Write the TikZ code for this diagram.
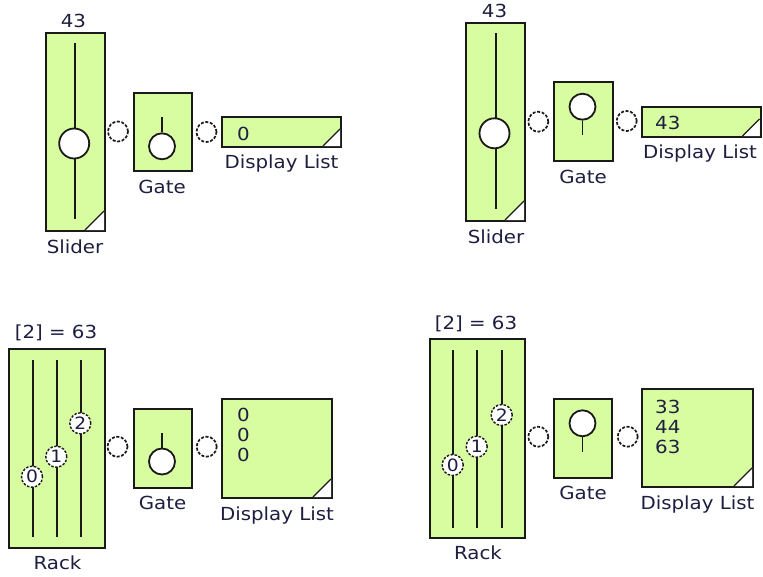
\documentclass[tikz,border=0pt]{standalone}
\usepackage{fontspec}
\setmainfont{DejaVu Sans}[FakeStretch=1.1]
\usetikzlibrary{positioning}
\definecolor{Panel}{HTML}{D8FCA0}
\definecolor{Ink}{HTML}{1E1E40}
\definecolor{Edge}{HTML}{1A1A1A}
\newcommand{\lblfont}{\fontsize{18}{20}\selectfont}
\newcommand{\pinfont}{\fontsize{17}{17}\selectfont}
% white flap in the lower right corner of a block
\newcommand{\flap}[2]{%
    \fill[white] ([xshift=-2pt,yshift=2pt]#1.south east) -- ++(-#2,0) -- ++(#2,-#2) -- cycle;
    \draw[Edge, line width=1.1pt] ([xshift=-2pt,yshift=2pt]#1.south east) ++(-#2,0) -- ++(#2,-#2);}
\tikzset{
    block/.style={rectangle, draw=Edge, fill=Panel, line width=2pt, inner sep=0pt},
    tag/.style={font=\lblfont, text=Ink, inner sep=0pt, anchor=base},
    readout/.style={font=\lblfont, text=Ink, inner sep=0pt, anchor=north west, align=left},
    port/.style={circle, draw=Edge, fill=white, dash pattern=on 3pt off 1.6pt, line width=1.7pt, minimum size=20pt, inner sep=0pt},
    knob/.style={circle, draw=Edge, fill=white, line width=1.8pt, inner sep=0pt},
    pin/.style={circle, draw=Edge, fill=white, dash pattern=on 2.5pt off 1.5pt, line width=1.4pt, minimum size=21pt, inner sep=0pt, font=\pinfont, text=Ink},
    track/.style={line width=1.8pt, color=Edge},
}
\begin{document}
\begin{tikzpicture}[x=1pt, y=-1pt]
    \fill[white] (0,0) rectangle (763,576);
    \useasboundingbox (0,0) rectangle (763,576);

    % Slider -> Gate (closed) -> Display List
    \node[tag] (valA) at (73.5,27) {43};
    \node[block, minimum width=59, minimum height=198] (sldA) at (75.5,132) {};
    \flap{sldA}{19}
    \coordinate (stA) at (75,43);
    \coordinate (sbA) at (75,219);
    \draw[track] (stA) -- (sbA);
    \node[knob, minimum size=30] (kbA) at (74.2,143.5) {};
    \node[tag] (sltA) at (75,253) {Slider};
    \node[port] (pA1) at (118,131.5) {};
    \node[block, minimum width=58, minimum height=78] (gA) at (163,132) {};
    \coordinate (gsA) at (162,117.3);
    \node[knob, minimum size=26] (gcA) at (162,146.3) {};
    \draw[track] (gsA) -- (gcA);
    \node[tag] (gtA) at (162,193) {Gate};
    \node[port] (pA2) at (206.5,132) {};
    \node[block, minimum width=119, minimum height=30] (dA) at (281.5,132) {};
    \flap{dA}{17}
    \node[readout] (rdA) at (237,127) {0};
    \node[tag] (dtA) at (281.5,168) {Display List};

    % Slider -> Gate (open) -> Display List
    \node[tag] (valB) at (494.5,17) {43};
    \node[block, minimum width=59, minimum height=198] (sldB) at (495.5,122) {};
    \flap{sldB}{19}
    \coordinate (stB) at (495.7,33.3);
    \coordinate (sbB) at (495.7,209.3);
    \draw[track] (stB) -- (sbB);
    \node[knob, minimum size=30] (kbB) at (494.5,133.3) {};
    \node[tag] (sltB) at (496,243) {Slider};
    \node[port] (pB1) at (538.3,121.7) {};
    \node[block, minimum width=59, minimum height=79] (gB) at (583.5,121.5) {};
    \node[knob, minimum size=26] (gcB) at (582.5,106.7) {};
    \coordinate (gsB) at (582.5,135);
    \draw[track] (gcB) -- (gsB);
    \node[tag] (gtB) at (583,183) {Gate};
    \node[port] (pB2) at (626.7,121) {};
    \node[block, minimum width=119, minimum height=30] (dB) at (701,122) {};
    \flap{dB}{17}
    \node[readout] (rdB) at (655,116) {43};
    \node[tag] (dtB) at (700,158) {Display List};

    % Rack -> Gate (closed) -> Display List
    \node[tag] (valC) at (56,338) {[2] = 63};
    \node[block, minimum width=96, minimum height=199] (rkC) at (57,448.5) {};
    \coordinate (t0C) at (32.7,360);
    \coordinate (b0C) at (32.7,537);
    \coordinate (t1C) at (56.7,360);
    \coordinate (b1C) at (56.7,537);
    \coordinate (t2C) at (80.7,360);
    \coordinate (b2C) at (80.7,537);
    \draw[track] (t0C) -- (b0C);
    \draw[track] (t1C) -- (b1C);
    \draw[track] (t2C) -- (b2C);
    \node[pin] (k0C) at (32,476.7) {0};
    \node[pin] (k1C) at (56.3,456.7) {1};
    \node[pin] (k2C) at (80.3,423.3) {2};
    \node[tag] (rtC) at (57.5,569) {Rack};
    \node[port] (pC1) at (117.5,446.7) {};
    \node[block, minimum width=58, minimum height=79] (gC) at (163,448.5) {};
    \coordinate (gsC) at (162,433.3);
    \node[knob, minimum size=26] (gcC) at (162,461.5) {};
    \draw[track] (gsC) -- (gcC);
    \node[tag] (gtC) at (162.5,509) {Gate};
    \node[port] (pC2) at (206.7,446.7) {};
    \node[block, minimum width=110, minimum height=99] (dC) at (277,448.5) {};
    \flap{dC}{18}
    \node[readout] (rdC) at (237,408) {0\\0\\0};
    \node[tag] (dtC) at (277,520) {Display List};

    % Rack -> Gate (open) -> Display List
    \node[tag] (valD) at (476,329) {[2] = 63};
    \node[block, minimum width=95, minimum height=199] (rkD) at (477.5,438.5) {};
    \coordinate (t0D) at (453.3,350);
    \coordinate (b0D) at (453.3,528.3);
    \coordinate (t1D) at (477.3,350);
    \coordinate (b1D) at (477.3,528.3);
    \coordinate (t2D) at (501.7,350);
    \coordinate (b2D) at (501.7,528.3);
    \draw[track] (t0D) -- (b0D);
    \draw[track] (t1D) -- (b1D);
    \draw[track] (t2D) -- (b2D);
    \node[pin] (k0D) at (452.7,465) {0};
    \node[pin] (k1D) at (476.7,446.7) {1};
    \node[pin] (k2D) at (501.7,415) {2};
    \node[tag] (rtD) at (478,559) {Rack};
    \node[port] (pD1) at (538.3,436.7) {};
    \node[block, minimum width=58, minimum height=79] (gD) at (583.3,438.7) {};
    \node[knob, minimum size=26] (gcD) at (582.5,423.3) {};
    \coordinate (gsD) at (582.5,451.7);
    \draw[track] (gcD) -- (gsD);
    \node[tag] (gtD) at (583,499) {Gate};
    \node[port] (pD2) at (627.7,436.7) {};
    \node[block, minimum width=111, minimum height=98] (dD) at (697.5,438) {};
    \flap{dD}{18}
    \node[readout] (rdD) at (655,400) {33\\44\\63};
    \node[tag] (dtD) at (697.5,509) {Display List};
\end{tikzpicture}
\end{document}
